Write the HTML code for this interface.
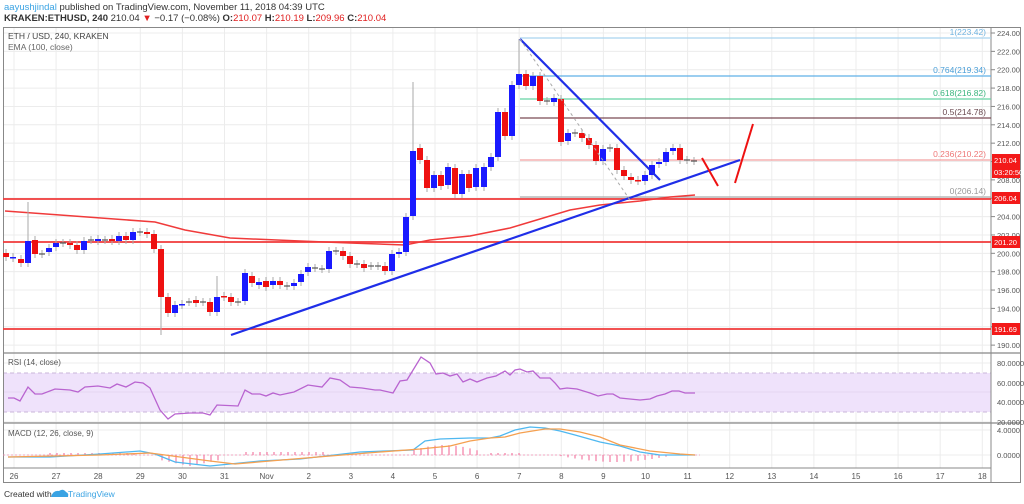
<!DOCTYPE html>
<html><head><meta charset="utf-8"><style>
body{margin:0;width:1024px;height:504px;background:#fff;overflow:hidden;font-family:"Liberation Sans",sans-serif}
svg{position:absolute;left:0;top:0}
</style></head><body>
<svg id="s" width="1024" height="504" xmlns="http://www.w3.org/2000/svg" font-family="Liberation Sans, sans-serif">
<text x="4" y="10" font-size="9.5" fill="#333"><tspan fill="#3aa3e3">aayushjindal</tspan> published on TradingView.com, November 11, 2018 04:39 UTC</text>
<text x="4" y="21" font-size="9.5" fill="#333"><tspan font-weight="bold">KRAKEN:ETHUSD, 240</tspan> 210.04 <tspan fill="#e02020">▼</tspan> −0.17 (−0.08%) <tspan font-weight="bold">O:</tspan><tspan fill="#e02020">210.07</tspan> <tspan font-weight="bold">H:</tspan><tspan fill="#e02020">210.19</tspan> <tspan font-weight="bold">L:</tspan><tspan fill="#e02020">209.96</tspan> <tspan font-weight="bold">C:</tspan><tspan fill="#e02020">210.04</tspan></text>
</svg>
<script>
const s=document.getElementById('s');let h='';
const L=(x1,y1,x2,y2,c,w,extra)=>h+=`<line x1="${x1}" y1="${y1}" x2="${x2}" y2="${y2}" stroke="${c}" stroke-width="${w}" ${extra||''}/>`;
const T=(x,y,t,c,sz,a,extra)=>h+=`<text x="${x}" y="${y}" fill="${c}" font-size="${sz}" ${a?`text-anchor="${a}"`:''} ${extra||''}>${t}</text>`;
const P=(pts,c,w)=>h+=`<polyline points="${pts.map(p=>p.join(',')).join(' ')}" fill="none" stroke="${c}" stroke-width="${w}"/>`;
const py=p=>33+(224-p)*9.18;
for(let d=0;d<=23;d++){const x=14+42.1*d;L(x,27,x,468,'#ececec',1);}
for(let p=190;p<=224;p+=2){L(3,py(p),991,py(p),'#ececec',1);}
[363,383,402,422].forEach(y=>L(3,y,991,y,'#ececec',1));
L(3,430,991,430,'#ececec',1);L(3,455,991,455,'#ececec',1);
h+=`<rect x="3" y="373" width="988" height="39" fill="#efe2fb"/>`;
L(3,373,991,373,'#c9b6d8',1,'stroke-dasharray="4,3"');L(3,412,991,412,'#c9b6d8',1,'stroke-dasharray="4,3"');
L(3,392,991,392,'#e4d6f0',1);
h+=`<rect x="3.5" y="27.5" width="1017" height="455" fill="none" stroke="#888" stroke-width="1"/>`;
L(991,27,991,483,'#888',1);L(3,353,1021,353,'#888',1.2);L(3,423,1021,423,'#888',1.2);L(3,468,991,468,'#888',1);
for(let p=190;p<=224;p+=2){L(991,py(p),995,py(p),'#888',1);T(997,py(p)+3,p.toFixed(2),'#555',7.5);}
[[80,363],[60,383],[40,402],[20,422]].forEach(a=>T(997,a[1]+3,a[0].toFixed(4),'#555',7.5));
T(997,433,'4.0000','#555',7.5);T(997,458,'0.0000','#555',7.5);
['26','27','28','29','30','31','Nov','2','3','4','5','6','7','8','9','10','11','12','13','14','15','16','17','18'].forEach((t,i)=>T(14+42.1*i,479,t,'#555',8,'middle'));
const fib=[[38,'#a9d4ef','1(223.42)','#6fb3e0'],[76,'#5fb0e8','0.764(219.34)','#4a9fd8'],[99,'#66d3a3','0.618(216.82)','#3bb57e'],[118,'#7a4a55','0.5(214.78)','#6a4a50'],[160,'#f2a0a0','0.236(210.22)','#e77'],[197,'#aaa','0(206.14)','#999']];
fib.forEach(f=>{L(520,f[0],991,f[0],f[1],1.2);T(986,f[0]-3,f[2],f[3],8.5,'end');});
[[199],[242],[329]].forEach(a=>L(3,a[0],991,a[0],'#f03a3a',1.8));
P([[5,211],[60,215],[155,222],[185,230],[230,238],[300,241],[350,243],[405,245],[430,240],[470,236],[510,228],[540,219],[570,210],[600,205],[640,201],[670,197],[695,195]],'#f03a3a',1.5);
const C=[[6,253,257,'r'],[13,257,258,'b'],[21,259,263,'r'],[28,241,263,'b',202],[35,240,254,'r'],[42,254,254,'d'],[49,248,252,'b'],[56,243,247,'b'],[63,243,243,'d'],[70,243,245,'r'],[77,245,250,'r'],[84,241,250,'b'],[91,240,240,'d'],[98,239,241,'b'],[105,240,240,'d'],[112,239,241,'r'],[119,236,241,'b'],[126,236,240,'r'],[133,232,240,'b'],[140,232,232,'d'],[147,232,234,'r'],[154,234,249,'r'],[161,249,297,'r',null,335],[168,297,313,'r'],[175,305,313,'b'],[182,304,305,'b'],[189,302,302,'d'],[196,300,303,'r'],[203,302,302,'d'],[210,302,312,'r'],[217,297,312,'b',276],[224,296,297,'r'],[231,297,302,'r'],[238,302,302,'d'],[245,273,301,'b'],[252,276,283,'r'],[259,282,285,'b'],[266,281,287,'r'],[273,281,285,'b'],[280,281,285,'r'],[287,286,286,'d'],[294,283,286,'b'],[301,274,282,'b'],[308,267,272,'b'],[315,268,268,'d'],[322,269,269,'d'],[329,251,269,'b'],[336,251,251,'d'],[343,251,256,'r'],[350,256,264,'r'],[357,264,264,'d'],[364,264,268,'r'],[371,266,266,'d'],[378,266,266,'d'],[385,266,271,'r'],[392,254,271,'b'],[399,252,254,'b'],[406,217,252,'b'],[413,151,216,'b',82],[420,148,160,'r'],[427,160,188,'r'],[434,175,188,'b'],[441,175,186,'r'],[448,167,185,'b'],[455,168,194,'r'],[462,174,194,'b'],[469,174,188,'r'],[476,168,187,'b'],[484,167,187,'b'],[491,157,167,'b'],[498,112,157,'b'],[505,112,136,'r'],[512,85,136,'b'],[519,74,85,'b',39],[526,74,86,'r'],[533,76,86,'b'],[540,76,101,'r'],[547,101,101,'d'],[554,98,102,'b'],[561,99,142,'r'],[568,133,141,'b'],[575,133,133,'d'],[582,133,138,'r'],[589,138,145,'r'],[596,145,161,'r'],[603,149,161,'b'],[610,148,148,'d'],[617,148,170,'r'],[624,170,176,'r'],[631,177,180,'r'],[638,180,181,'r'],[645,175,181,'b'],[652,165,175,'b'],[659,162,164,'b'],[666,152,162,'b'],[673,148,151,'b'],[680,148,160,'r'],[687,160,160,'d'],[694,161,161,'d']];
C.forEach(c=>{const [x,t,b,k,hi,lo]=c;const col=k=='b'?'#1a1aff':k=='r'?'#ee1111':'#555';
 L(x,hi||t-4,x,lo||b+4,'#aaa',1);
 if(k=='d')L(x-3,t,x+3,t,'#555',1.2);else h+=`<rect x="${x-3}" y="${t}" width="6" height="${Math.max(b-t,1.5)}" fill="${col}"/>`;});
L(231,335,740,160,'#1f2ee8',2.2);L(520,39,660,180,'#1f2ee8',2.2);L(520,39,630,200,'#aaa',1,'stroke-dasharray="3,3"');
L(702,158,718,186,'#ee1111',2);L(735,183,753,124,'#ee1111',2);
[[160,'210.04'],[172,'03:20:50'],[198,'206.04'],[242,'201.20'],[329,'191.69']].forEach(a=>{h+=`<rect x="992" y="${a[0]-6}" width="28" height="12" fill="#f31919"/>`;T(994,a[0]+3,a[1],'#fff',7.5);});
P([[8,398],[14,398],[20,401],[28,387],[35,394],[42,394],[55,389],[70,390],[78,392],[85,387],[98,386],[110,388],[117,384],[126,387],[135,382],[143,383],[150,388],[160,410],[168,419],[175,414],[190,413],[203,413],[210,415],[217,405],[238,406],[245,390],[252,394],[260,394],[266,396],[273,393],[280,395],[294,392],[308,385],[322,387],[330,378],[340,380],[350,387],[362,388],[375,390],[380,390],[393,393],[400,381],[407,380],[421,357],[430,363],[436,374],[443,373],[450,376],[457,374],[463,382],[470,379],[477,382],[487,378],[496,376],[505,371],[510,375],[515,370],[520,369],[527,372],[533,371],[540,378],[550,378],[555,383],[560,389],[567,388],[577,389],[590,393],[598,396],[607,394],[613,394],[620,398],[640,400],[650,399],[657,396],[665,394],[672,391],[679,391],[685,393],[695,393]],'#b964d0',1.3);
T(8,365,'RSI (14, close)','#555',8);T(8,436,'MACD (12, 26, close, 9)','#555',8);
T(8,39,'ETH / USD, 240, KRAKEN','#444',8.5);T(8,50,'EMA (100, close)','#666',8.5);
for(let x=50;x<700;x+=7){let v=0;
 if(x>40&&x<140)v=-2;else if(x>=160&&x<220)v=5+(x<190?(x-160)/5:(220-x)/5);else if(x>=245&&x<330)v=-3;
 else if(x>=410&&x<480)v=-(4+6*Math.sin((x-410)/70*Math.PI));else if(x>=490&&x<520)v=-2;else if(x>=560&&x<670)v=6*Math.sin((x-560)/110*Math.PI)+1;
 if(v)L(x,455,x,455+v,'#f06292',1);}
L(3,455,700,455,'#f48fb1',0.8,'stroke-dasharray="2,2"');
P([[8,457],[50,457],[100,454],[140,451],[155,454],[175,462],[210,466],[230,464],[260,461],[300,459],[360,452],[413,450],[425,441],[440,439],[470,438],[490,438],[500,436],[515,430],[530,427],[545,428],[560,431],[575,435],[600,442],[620,446],[640,452],[660,455],[695,455]],'#4fb8f0',1.3);
P([[8,457],[100,455],[150,453],[180,457],[210,461],[235,464],[270,461],[330,456],[380,452],[420,449],[450,446],[470,441],[490,438],[505,437],[520,433],[545,429],[560,429],[580,432],[600,437],[620,445],[650,451],[680,454],[695,455]],'#f5a050',1.3);
T(4,497,'Created with','#333',8.5);
h+=`<path d="M51 497 q2-7 8-6 q4-3 7 1 q3 1 2 5 z" fill="#3aa3e3"/>`;T(68,497,'TradingView','#3aa3e3',8.5);
s.insertAdjacentHTML('beforeend',h);
</script>
</body></html>
